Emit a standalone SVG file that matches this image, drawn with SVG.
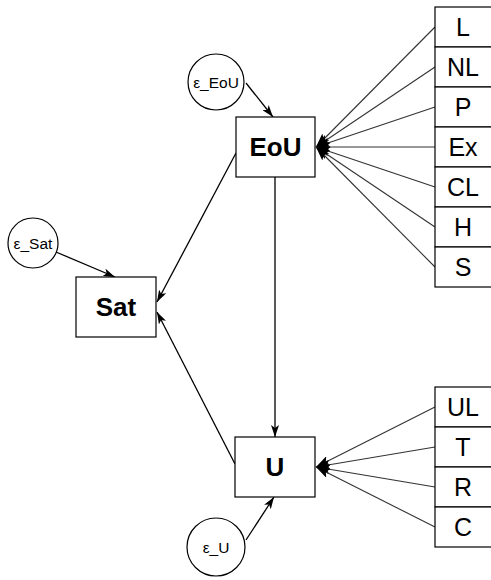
<svg xmlns="http://www.w3.org/2000/svg" width="491" height="580" viewBox="0 0 491 580">
<defs>
<style>
.box{fill:#fff;stroke:#000;stroke-width:1.2}
.circ{fill:#fff;stroke:#000;stroke-width:1.2}
.ln{stroke:#000;stroke-width:1.3;fill:none}
.ind{stroke:#333;stroke-width:1.1;fill:none}
.lat{font-family:"Liberation Sans",Arial,sans-serif;font-weight:bold;font-size:26px;text-anchor:middle;fill:#000}
.it{font-family:"Liberation Sans",Arial,sans-serif;font-size:25px;text-anchor:middle;fill:#000}
.eps{font-family:"Liberation Sans",Arial,sans-serif;font-size:15.5px;text-anchor:middle;fill:#000}
</style>
<marker id="ah" viewBox="0 0 12 8" refX="12" refY="4" markerWidth="12" markerHeight="8" markerUnits="userSpaceOnUse" orient="auto">
<path d="M0,0 L12,4 L0,8 L3,4 Z" fill="#000"/>
</marker>
<marker id="ah2" viewBox="0 0 14 10" refX="14" refY="5" markerWidth="14" markerHeight="10" markerUnits="userSpaceOnUse" orient="auto">
<path d="M0,0 L14,5 L0,10 L3,5 Z" fill="#000"/>
</marker>
</defs>
<rect width="491" height="580" fill="#fff"/>
<g id="connectors">
<line class="ind" x1="435" y1="27" x2="316" y2="147" marker-end="url(#ah2)"/>
<line class="ind" x1="435" y1="67" x2="316" y2="147" marker-end="url(#ah2)"/>
<line class="ind" x1="435" y1="107" x2="316" y2="147" marker-end="url(#ah2)"/>
<line class="ind" x1="435" y1="147" x2="316" y2="147" marker-end="url(#ah2)"/>
<line class="ind" x1="435" y1="187" x2="316" y2="147" marker-end="url(#ah2)"/>
<line class="ind" x1="435" y1="227" x2="316" y2="147" marker-end="url(#ah2)"/>
<line class="ind" x1="435" y1="267" x2="316" y2="147" marker-end="url(#ah2)"/>
<line class="ind" x1="435" y1="407" x2="316" y2="467" marker-end="url(#ah2)"/>
<line class="ind" x1="435" y1="447" x2="316" y2="467" marker-end="url(#ah2)"/>
<line class="ind" x1="435" y1="487" x2="316" y2="467" marker-end="url(#ah2)"/>
<line class="ind" x1="435" y1="527" x2="316" y2="467" marker-end="url(#ah2)"/>
<line class="ln" x1="275" y1="177" x2="275" y2="437" marker-end="url(#ah)"/>
<line class="ln" x1="236" y1="153" x2="157" y2="302" marker-end="url(#ah)"/>
<line class="ln" x1="235" y1="464" x2="157" y2="312" marker-end="url(#ah)"/>
<line class="ln" x1="246" y1="83" x2="273" y2="117" marker-end="url(#ah)"/>
<line class="ln" x1="56" y1="252" x2="115" y2="277" marker-end="url(#ah)"/>
<line class="ln" x1="246" y1="540" x2="274" y2="497" marker-end="url(#ah)"/>
</g>
<g id="EoU"><rect class="box" x="236" y="117" width="79" height="60"/><text class="lat" x="275.5" y="156">EoU</text></g>
<g id="Sat"><rect class="box" x="76" y="277" width="80" height="60"/><text class="lat" x="116" y="316">Sat</text></g>
<g id="U"><rect class="box" x="235" y="437" width="80" height="60"/><text class="lat" x="275" y="476">U</text></g>
<g id="e_EoU"><circle class="circ" cx="216" cy="82" r="28"/><text class="eps" x="216" y="88">ε_EoU</text></g>
<g id="e_Sat"><circle class="circ" cx="33" cy="243" r="25"/><text class="eps" x="33" y="249">ε_Sat</text></g>
<g id="e_U"><circle class="circ" cx="216" cy="547" r="29"/><text class="eps" x="216" y="553">ε_U</text></g>
<g id="L"><rect class="box" x="435" y="7" width="60" height="40"/><text class="it" x="463" y="36">L</text></g>
<g id="NL"><rect class="box" x="435" y="47" width="60" height="40"/><text class="it" x="463" y="76">NL</text></g>
<g id="P"><rect class="box" x="435" y="87" width="60" height="40"/><text class="it" x="463" y="116">P</text></g>
<g id="Ex"><rect class="box" x="435" y="127" width="60" height="40"/><text class="it" x="463" y="156">Ex</text></g>
<g id="CL"><rect class="box" x="435" y="167" width="60" height="40"/><text class="it" x="463" y="196">CL</text></g>
<g id="H"><rect class="box" x="435" y="207" width="60" height="40"/><text class="it" x="463" y="236">H</text></g>
<g id="S"><rect class="box" x="435" y="247" width="60" height="40"/><text class="it" x="463" y="276">S</text></g>
<g id="UL"><rect class="box" x="435" y="387" width="60" height="40"/><text class="it" x="463" y="416">UL</text></g>
<g id="T"><rect class="box" x="435" y="427" width="60" height="40"/><text class="it" x="463" y="456">T</text></g>
<g id="R"><rect class="box" x="435" y="467" width="60" height="40"/><text class="it" x="463" y="496">R</text></g>
<g id="C"><rect class="box" x="435" y="507" width="60" height="40"/><text class="it" x="463" y="536">C</text></g>
</svg>
